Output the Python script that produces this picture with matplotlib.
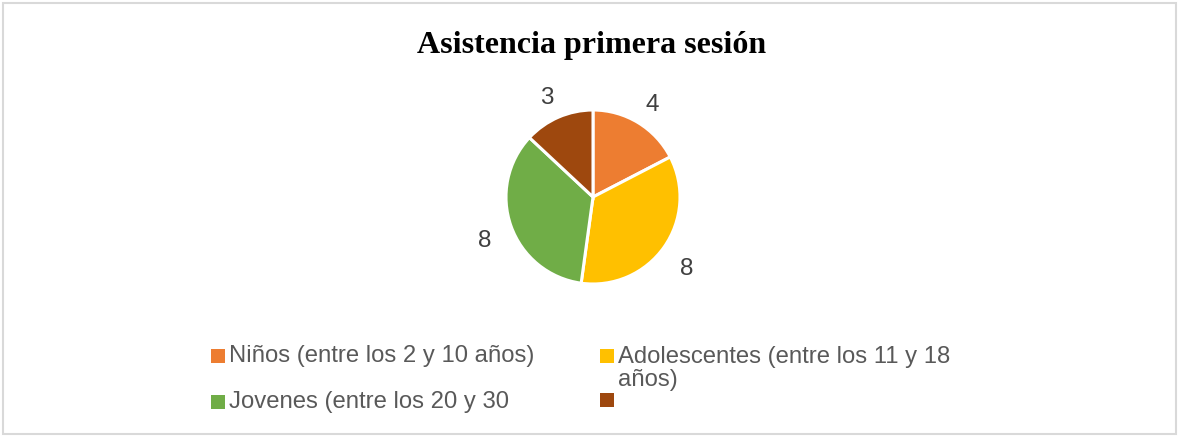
import matplotlib
matplotlib.use("Agg")
import matplotlib.pyplot as plt
from matplotlib.patches import Rectangle
from matplotlib.transforms import offset_copy

# Data
categories = [
    "Niños (entre los 2 y 10 años)",
    "Adolescentes (entre los 11 y 18\naños)",
    "Jovenes (entre los 20 y 30",
    "",
]
values = [4, 8, 8, 3]
colors = ["#ED7D31", "#FFC000", "#70AD47", "#9E480E"]

W, H = 1180, 437
fig = plt.figure(figsize=(W / 100, H / 100), dpi=100)
fig.patch.set_facecolor("white")


def px(x, y):
    """pixel coords (top-left origin) -> figure fraction"""
    return x / W, 1 - y / H


# Chart border
fig.patches.append(Rectangle(px(3, 434), (W - 7) / W, 431 / H, transform=fig.transFigure,
                             fill=False, edgecolor="#D9D9D9", linewidth=1.5))

# Pie
cx, cy, r = 593, 197, 87
ax = fig.add_axes([(cx - r) / W, (H - cy - r) / H, 2 * r / W, 2 * r / H])
wedges, texts = ax.pie(values, labels=[str(v) for v in values], colors=colors,
                       startangle=90, counterclock=False, labeldistance=1.32,
                       wedgeprops=dict(edgecolor="white", linewidth=2.2),
                       textprops=dict(fontsize=17.5, color="#404040", family="Liberation Sans"))
for t in texts:
    t.set_ha("center")
    t.set_va("center")
    # nudge data labels down a bit (Excel centres the glyphs, not the text box)
    t.set_transform(offset_copy(ax.transData, fig=fig, x=0, y=-6, units="dots"))
ax.set_xlim(-1, 1)
ax.set_ylim(-1, 1)
ax.axis("off")

# Title
fig.text(*px(592, 45), "Asistencia primera sesión", ha="center", va="center",
         fontsize=23, fontweight="bold", family="Liberation Serif", color="black")

# Legend (drawn by hand to keep Excel-like wrapping)
legend_pos = [(211, 356), (600, 356), (211, 402), (600, 400)]
text_y = [356, 368.5, 402, 400]
for (lx, ly), ty, c, lab in zip(legend_pos, text_y, colors, categories):
    x0, y0 = px(lx, ly + 7)
    fig.patches.append(Rectangle((x0, y0), 14 / W, 14 / H, transform=fig.transFigure,
                                 facecolor=c, edgecolor="none"))
    fig.text(*px(lx + 18, ty), lab, ha="left", va="center", fontsize=17.2,
             color="#595959", family="Liberation Sans", linespacing=1.05)

fig.savefig("out.png", dpi=100, facecolor="white")
